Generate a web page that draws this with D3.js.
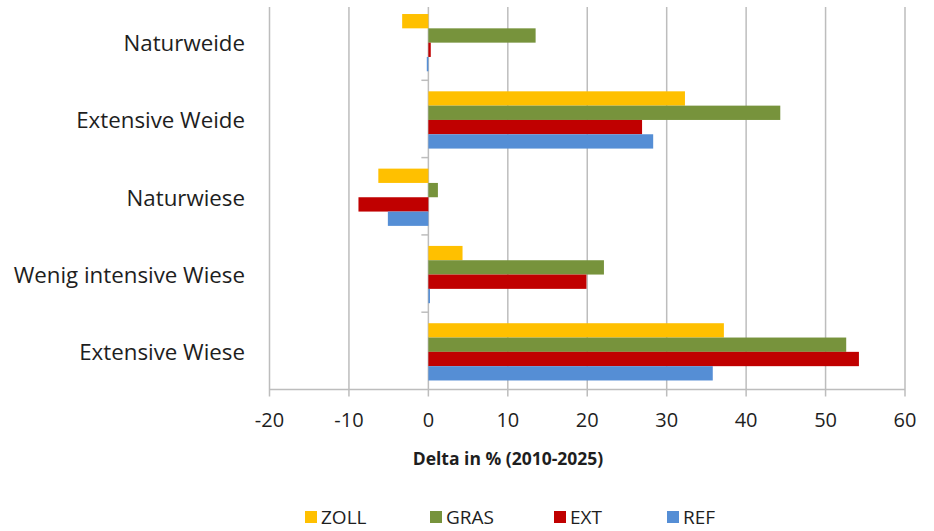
<!DOCTYPE html>
<html><head><meta charset="utf-8">
<script src="https://cdn.jsdelivr.net/npm/d3@7"></script>
<style>body{margin:0;background:#fff}svg{display:block}text{font-family:"Open Sans",sans-serif;fill:#1e1e1e}</style>
</head><body><svg id="c" width="934" height="531"></svg>
<script>
const categories = ["Naturweide","Extensive Weide","Naturwiese","Wenig intensive Wiese","Extensive Wiese"];
const seriesNames = ["ZOLL","GRAS","EXT","REF"];
const seriesColors = ["#FFC000","#77933C","#C00000","#558ED5"];
const ZOLL = [-3.3, 32.3, -6.3, 4.3, 37.2];
const GRAS = [13.5, 44.3, 1.2, 22.1, 52.6];
const EXT  = [0.3, 26.9, -8.8, 19.9, 54.2];
const REF  = [-0.2, 28.3, -5.1, 0.2, 35.8];
const xTicks = [-20,-10,0,10,20,30,40,50,60];
const xTitle = "Delta in % (2010-2025)";

const values = [ZOLL, GRAS, EXT, REF];
const svg = d3.select("#c");
const L = 269.5, R = 905, T = 3, B = 389.5;
const x = d3.scaleLinear().domain([-20,60]).range([L,R]);
const y0 = d3.scaleBand().domain(categories).range([T,B]).paddingInner(0).paddingOuter(0);
const y1 = d3.scaleBand().domain(seriesNames).range([1, y0.bandwidth()+1]).paddingOuter(0.7).paddingInner(0);

// gridlines
svg.append("g").selectAll("line").data(xTicks).join("line")
  .attr("x1", d=>x(d)).attr("x2", d=>x(d)).attr("y1", T+4).attr("y2", B+7)
  .attr("stroke","#BDBDBD").attr("stroke-width",1.5);
// bottom axis line
svg.append("line").attr("x1",L).attr("x2",R).attr("y1",B).attr("y2",B)
  .attr("stroke","#BDBDBD").attr("stroke-width",1.5);
// category ticks at x=0
svg.append("g").selectAll("line").data(categories.slice(1)).join("line")
  .attr("x1", x(0)-7).attr("x2", x(0)).attr("y1", d=>y0(d)).attr("y2", d=>y0(d))
  .attr("stroke","#BDBDBD").attr("stroke-width",1.5);

// bars
const g = svg.append("g");
categories.forEach((c,ci)=>{
  seriesNames.forEach((s,si)=>{
    const v = values[si][ci];
    g.append("rect")
      .attr("x", x(Math.min(0,v)))
      .attr("width", Math.max(0.8, Math.abs(x(v)-x(0))))
      .attr("y", y0(c)+y1(s))
      .attr("height", y1.bandwidth())
      .attr("fill", seriesColors[si]);
  });
});

// category labels
svg.append("g").selectAll("text").data(categories).join("text")
  .attr("x", 245).attr("y", d=>y0(d)+y0.bandwidth()/2+1)
  .attr("text-anchor","end").attr("dominant-baseline","central")
  .style("font-size","22.3px").text(d=>d);

// x tick labels
svg.append("g").selectAll("text").data(xTicks).join("text")
  .attr("x", d=>x(d)).attr("y", 427)
  .attr("text-anchor","middle").style("font-size","20px").text(d=>d);

// axis title
svg.append("text").attr("x",508).attr("y",465).attr("text-anchor","middle")
  .style("font-size","17.5px").style("font-weight","bold").text(xTitle);

// legend
const lx = [305, 430, 554, 667];
const lg = svg.append("g").selectAll("g").data(seriesNames).join("g")
  .attr("transform",(d,i)=>`translate(${lx[i]},517)`);
lg.append("rect").attr("x",0).attr("y",-6).attr("width",12).attr("height",12)
  .attr("fill",(d,i)=>seriesColors[i]);
lg.append("text").attr("x",16).attr("y",0).attr("dominant-baseline","central")
  .style("font-size","19px").text(d=>d);
</script></body></html>
